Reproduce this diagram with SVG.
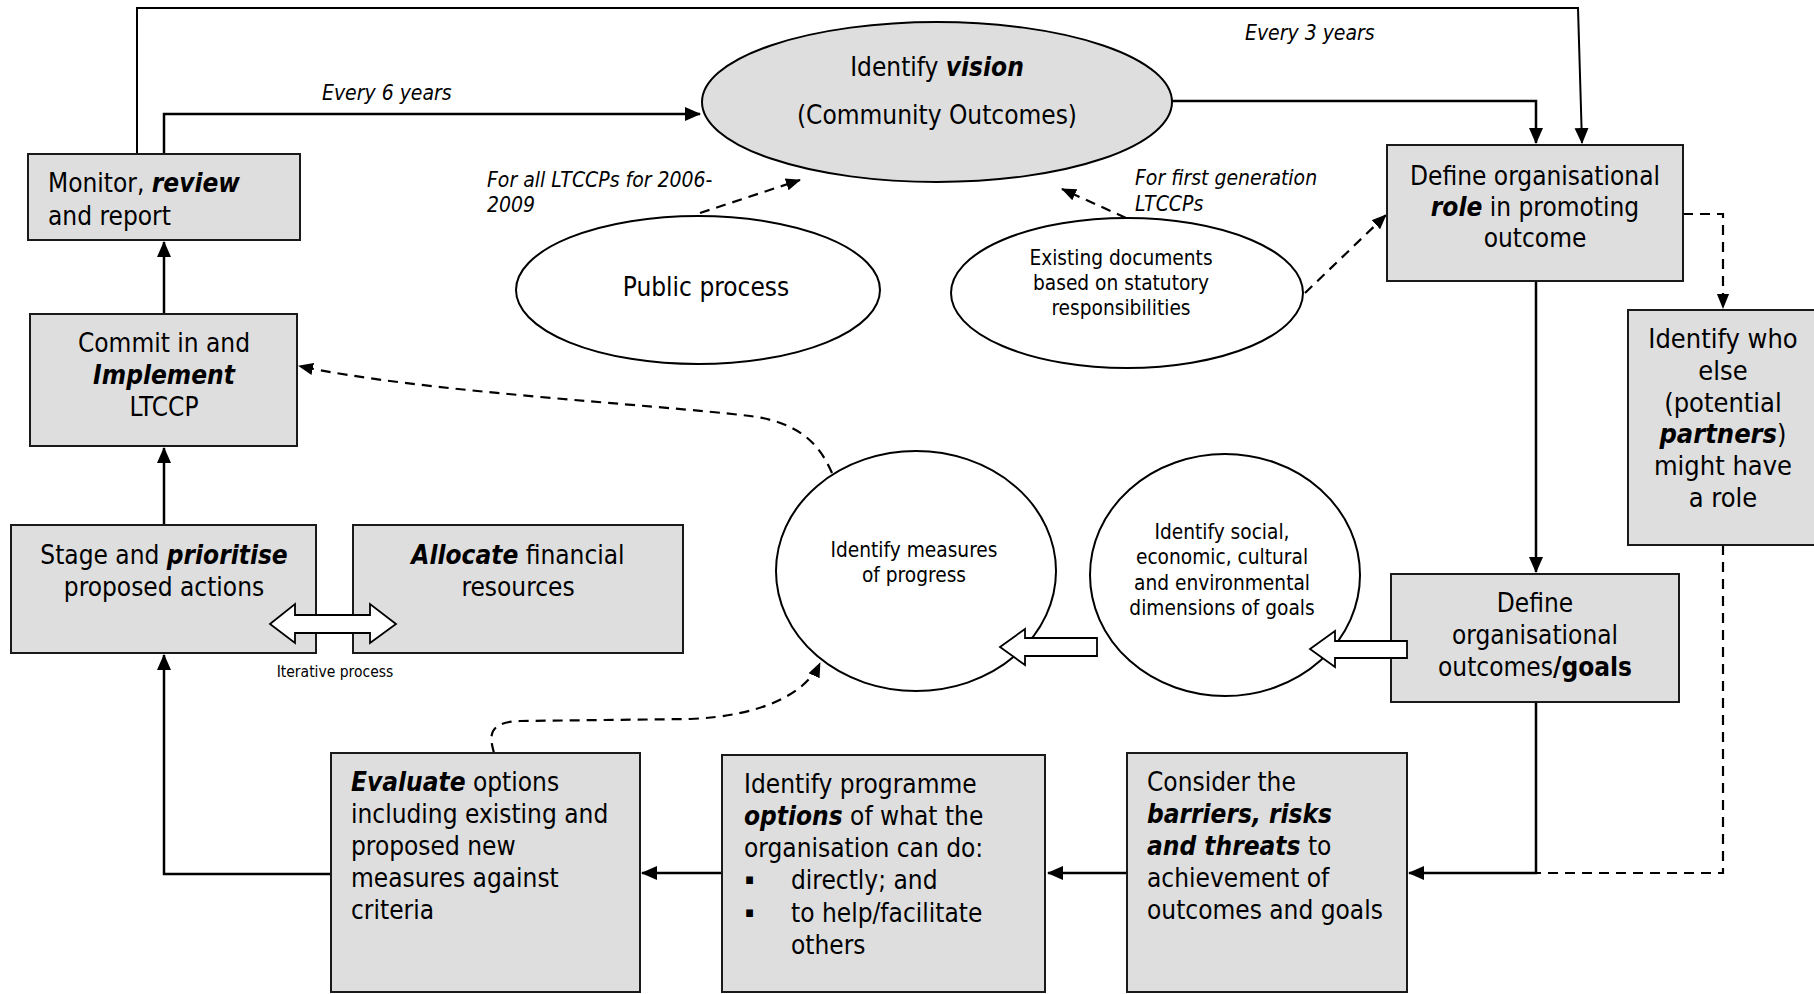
<svg xmlns="http://www.w3.org/2000/svg" width="1814" height="994" viewBox="0 0 1814 994">
<style>
.box{fill:#dedede;stroke:#1a1a1a;stroke-width:2}
.ell{fill:#ffffff;stroke:#000;stroke-width:2}
.ellg{fill:#dedede;stroke:#000;stroke-width:2}
.t{font-family:"DejaVu Sans Condensed","DejaVu Sans",sans-serif;font-stretch:semi-condensed;font-size:26px;fill:#000}
.w{font-size:27px}
.s{font-size:20.7px}
.it{font-style:italic;font-size:21px}
.sm{font-size:15.5px}
.bul{font-size:15px}
.c{text-anchor:middle}
.b{font-weight:bold}
.bi{font-weight:bold;font-style:italic}
.ln{fill:none;stroke:#000;stroke-width:2.5}
.ln2{fill:none;stroke:#000;stroke-width:2}
.dash{fill:none;stroke:#000;stroke-width:2.2;stroke-dasharray:10 7}
.hol{fill:#fff;stroke:#000;stroke-width:1.8;stroke-linejoin:miter}
</style>
<defs>
<marker id="ah" markerUnits="userSpaceOnUse" viewBox="0 0 16 16" markerWidth="16" markerHeight="16" refX="15" refY="8" orient="auto">
<path d="M0,1 L16,8 L0,15 Z" fill="#000"/>
</marker>
<marker id="ahd" markerUnits="userSpaceOnUse" viewBox="0 0 16 16" markerWidth="15" markerHeight="15" refX="15" refY="8" orient="auto">
<path d="M0,1.5 L16,8 L0,14.5 Z" fill="#000"/>
</marker>
</defs>
<rect width="1814" height="994" fill="#fff"/>

<g id="connectors">
<path class="ln2" d="M137,154 V8 H1578 L1582,143" marker-end="url(#ah)"/>
<path class="ln" d="M164,154 V114 H700" marker-end="url(#ah)"/>
<path class="ln" d="M1172,101 H1536 V143" marker-end="url(#ah)"/>
<path class="ln" d="M1536,281 V572" marker-end="url(#ah)"/>
<path class="ln" d="M1536,702 V873 H1409" marker-end="url(#ah)"/>
<path class="dash" d="M1683,214 H1723 V308" marker-end="url(#ahd)"/>
<path class="dash" d="M1723,545 V873 H1536"/>
<path class="ln" d="M1127,873 H1048" marker-end="url(#ah)"/>
<path class="ln" d="M722,873 H642" marker-end="url(#ah)"/>
<path class="ln" d="M331,874 H164 V655" marker-end="url(#ah)"/>
<path class="ln" d="M164,525 V448" marker-end="url(#ah)"/>
<path class="ln" d="M164,314 V242" marker-end="url(#ah)"/>
<path class="dash" d="M700,213 L800,180" marker-end="url(#ahd)"/>
<path class="dash" d="M1126,218 L1062,189" marker-end="url(#ahd)"/>
<path class="dash" d="M1305,293 L1386,215" marker-end="url(#ahd)"/>
<path class="dash" d="M832,473 C818,440 795,422 750,416 C650,404 420,392 299,366" marker-end="url(#ahd)"/>
<path class="dash" d="M494,753 C490,738 486,722 520,721 L690,719 C760,716 805,695 820,663" marker-end="url(#ahd)"/>
</g>

<g id="vision">
<ellipse class="ellg" cx="937" cy="102" rx="235" ry="80"/>
<text class="t c" x="937" y="76">Identify <tspan class="bi">vision</tspan></text>
<text class="t c" x="937" y="124">(Community Outcomes)</text>
</g>

<g id="monitor">
<rect class="box" x="28" y="154" width="272" height="86"/>
<text class="t" x="48" y="192">Monitor, <tspan class="bi">review</tspan></text>
<text class="t" x="48" y="225">and report</text>
</g>

<g id="commit">
<rect class="box" x="30" y="314" width="267" height="132"/>
<text class="t c" x="164" y="352">Commit in and</text>
<text class="t c bi" x="164" y="384">Implement</text>
<text class="t c" x="164" y="416">LTCCP</text>
</g>

<g id="stage">
<rect class="box" x="11" y="525" width="305" height="128"/>
<text class="t c" x="164" y="564">Stage and <tspan class="bi">prioritise</tspan></text>
<text class="t c" x="164" y="596">proposed actions</text>
</g>

<g id="allocate">
<rect class="box" x="353" y="525" width="330" height="128"/>
<text class="t c" x="518" y="564"><tspan class="bi">Allocate</tspan> financial</text>
<text class="t c" x="518" y="596">resources</text>
</g>

<g id="iterative">
<path class="hol" d="M270,624 L295,604 L295,615 L370,615 L370,604 L396,624 L370,643 L370,633 L295,633 L295,643 Z"/>
<text class="t sm c" x="335" y="677">Iterative process</text>
</g>

<g id="evaluate">
<rect class="box" x="331" y="753" width="309" height="239"/>
<text class="t" x="351" y="791"><tspan class="bi">Evaluate</tspan> options</text>
<text class="t" x="351" y="823">including existing and</text>
<text class="t" x="351" y="855">proposed new</text>
<text class="t" x="351" y="887">measures against</text>
<text class="t" x="351" y="919">criteria</text>
</g>

<g id="programme">
<rect class="box" x="722" y="755" width="323" height="237"/>
<text class="t" x="744" y="793">Identify programme</text>
<text class="t" x="744" y="825"><tspan class="bi">options</tspan> of what the</text>
<text class="t" x="744" y="857">organisation can do:</text>
<text class="t bul" x="745" y="884">▪</text>
<text class="t" x="791" y="889">directly; and</text>
<text class="t bul" x="745" y="917">▪</text>
<text class="t" x="791" y="922">to help/facilitate</text>
<text class="t" x="791" y="954">others</text>
</g>

<g id="consider">
<rect class="box" x="1127" y="753" width="280" height="239"/>
<text class="t" x="1147" y="791">Consider the</text>
<text class="t bi" x="1147" y="823">barriers, risks</text>
<text class="t" x="1147" y="855"><tspan class="bi">and threats</tspan> to</text>
<text class="t" x="1147" y="887">achievement of</text>
<text class="t" x="1147" y="919">outcomes and goals</text>
</g>

<g id="outcomes">
<rect class="box" x="1391" y="574" width="288" height="128"/>
<text class="t c" x="1535" y="612">Define</text>
<text class="t c" x="1535" y="644">organisational</text>
<text class="t c" x="1535" y="676">outcomes<tspan class="b">/goals</tspan></text>
</g>

<g id="role">
<rect class="box" x="1387" y="145" width="296" height="136"/>
<text class="t c" x="1535" y="185">Define organisational</text>
<text class="t c" x="1535" y="216"><tspan class="bi">role</tspan> in promoting</text>
<text class="t c" x="1535" y="247">outcome</text>
</g>

<g id="partners">
<rect class="box" x="1628" y="310" width="195" height="235"/>
<text class="t w c" x="1723" y="348">Identify who</text>
<text class="t w c" x="1723" y="380">else</text>
<text class="t w c" x="1723" y="412">(potential</text>
<text class="t w c" x="1723" y="443"><tspan class="bi">partners</tspan>)</text>
<text class="t w c" x="1723" y="475">might have</text>
<text class="t w c" x="1723" y="507">a role</text>
</g>

<g id="public">
<ellipse class="ell" cx="698" cy="290" rx="182" ry="74"/>
<text class="t c" x="706" y="296">Public process</text>
</g>

<g id="existing">
<ellipse class="ell" cx="1127" cy="293" rx="176" ry="75"/>
<text class="t s c" x="1121" y="265">Existing documents</text>
<text class="t s c" x="1121" y="290">based on statutory</text>
<text class="t s c" x="1121" y="315">responsibilities</text>
</g>

<g id="measures">
<ellipse class="ell" cx="916" cy="571" rx="140" ry="120"/>
<text class="t s c" x="914" y="557">Identify measures</text>
<text class="t s c" x="914" y="582">of progress</text>
</g>

<g id="social">
<ellipse class="ell" cx="1225" cy="575" rx="135" ry="121"/>
<text class="t s c" x="1222" y="539">Identify social,</text>
<text class="t s c" x="1222" y="564">economic, cultural</text>
<text class="t s c" x="1222" y="590">and environmental</text>
<text class="t s c" x="1222" y="615">dimensions of goals</text>
</g>

<g id="hollow-arrows">
<path class="hol" d="M1310,649 L1335,631 L1335,641 L1407,641 L1407,658 L1335,658 L1335,667 Z"/>
<path class="hol" d="M1000,647 L1025,629 L1025,638 L1097,638 L1097,656 L1025,656 L1025,665 Z"/>
</g>

<g id="labels">
<text class="t it" x="1245" y="40">Every 3 years</text>
<text class="t it" x="322" y="100">Every 6 years</text>
<text class="t it" x="487" y="187">For all LTCCPs for 2006-</text>
<text class="t it" x="487" y="212">2009</text>
<text class="t it" x="1135" y="185">For first generation</text>
<text class="t it" x="1135" y="211">LTCCPs</text>
</g>
</svg>
